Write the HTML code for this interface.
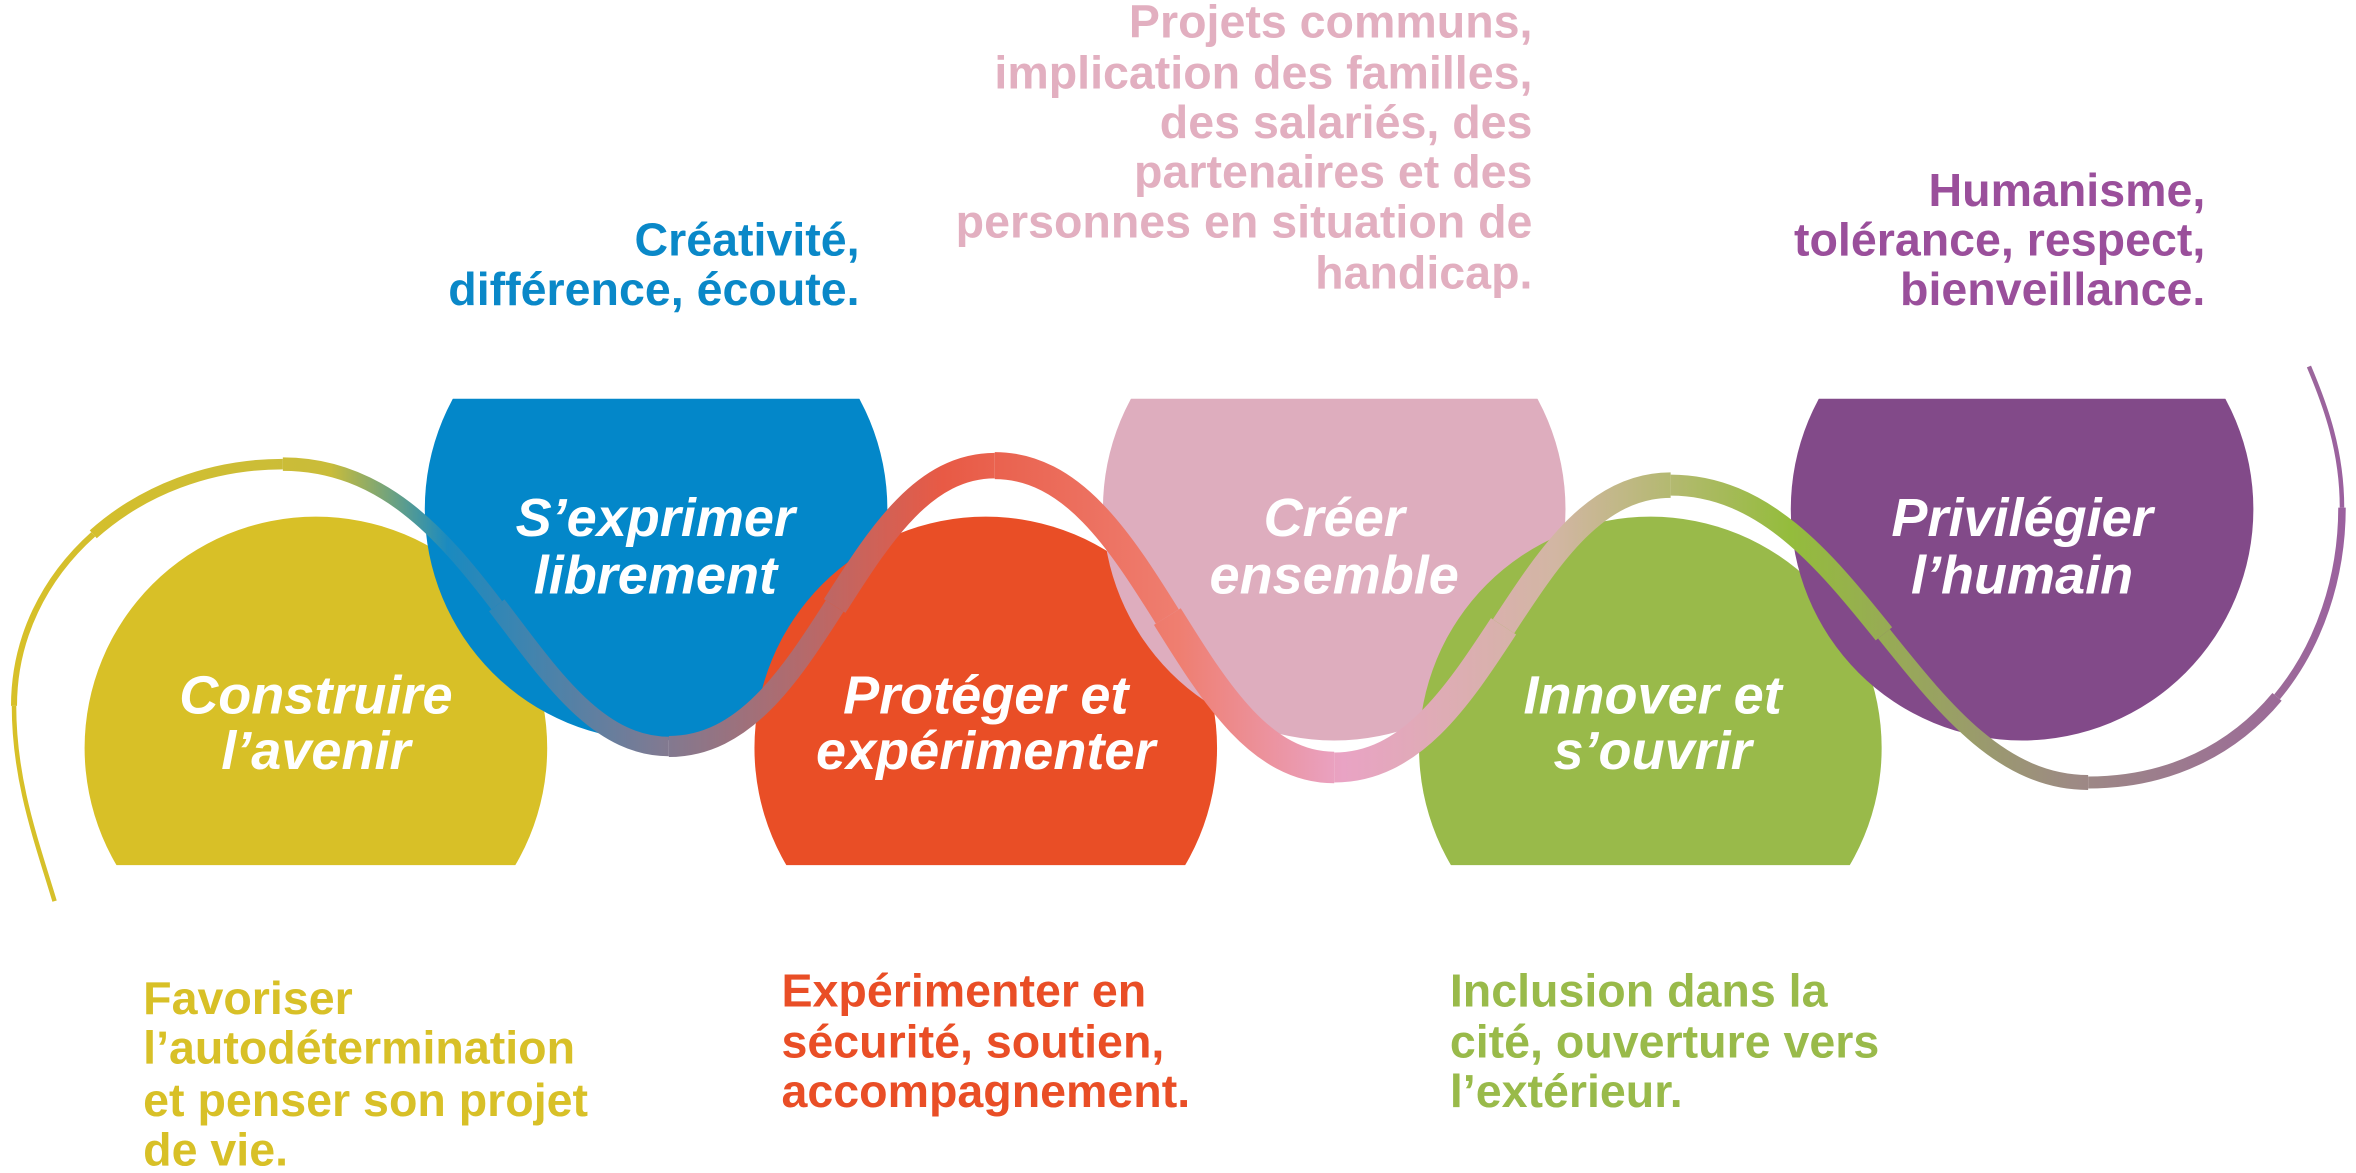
<!DOCTYPE html>
<html><head><meta charset="utf-8"><style>
html,body{margin:0;padding:0;background:#fff;}
svg{display:block;}
text{font-family:"Liberation Sans",sans-serif;}
.c{fill:#fff;font-style:italic;font-weight:bold;font-size:36px;text-anchor:middle;}
.t{font-size:31px;font-weight:bold;}
</style></head><body>
<svg width="2356" height="1173" viewBox="0 0 1568 781" xmlns="http://www.w3.org/2000/svg">
<defs>
<clipPath id="bot"><rect x="0" y="0" width="1568" height="576"/></clipPath>
<clipPath id="top"><rect x="0" y="265.5" width="1568" height="600"/></clipPath>
<linearGradient id="g" gradientUnits="userSpaceOnUse" x1="0" y1="0" x2="1568" y2="0">
<stop offset="0" stop-color="#d8c027"/>
<stop offset="0.14" stop-color="#c9bc3a"/>
<stop offset="0.19" stop-color="#1a8ac0"/>
<stop offset="0.28" stop-color="#7f7a92"/>
<stop offset="0.4" stop-color="#e85a45"/>
<stop offset="0.5" stop-color="#ef7e70"/>
<stop offset="0.57" stop-color="#e9a3c4"/>
<stop offset="0.66" stop-color="#d2b6a3"/>
<stop offset="0.76" stop-color="#94bc3c"/>
<stop offset="0.88" stop-color="#9d8a84"/>
<stop offset="1" stop-color="#9b5fa0"/>
</linearGradient>
</defs>
<circle cx="210" cy="498" r="154" fill="#d8c027" clip-path="url(#bot)"/>
<circle cx="436.5" cy="339" r="154" fill="#0387c9" clip-path="url(#top)"/>
<circle cx="656" cy="498" r="154" fill="#e94e26" clip-path="url(#bot)"/>
<circle cx="888" cy="339" r="154" fill="#deadbe" clip-path="url(#top)"/>
<circle cx="1098.5" cy="498" r="154" fill="#99ba4a" clip-path="url(#bot)"/>
<circle cx="1346" cy="339" r="154" fill="#824a89" clip-path="url(#top)"/>

<g fill="none" stroke="url(#g)" stroke-linecap="butt">
<path d="M36,600 C24,560 9,520 9,470" stroke-width="3"/>
<path d="M9,470 C9,425 29.25,384.75 61.75,355.75" stroke-width="4"/>
<path d="M61.75,355.75 C94.25,326.75 139,309 188,309" stroke-width="7"/>
<path d="M188,309 C254,309 294.5,356 330.4,403" stroke-width="9"/>
<path d="M330.4,403 C366.25,450 397.5,497 445,497" stroke-width="13"/>
<path d="M445,497 C495,497 525.5,450.25 555.4,403.5" stroke-width="14"/>
<path d="M555.4,403.5 C585.25,356.75 614.5,310 662,310" stroke-width="17"/>
<path d="M662,310 C713.5,310 745.5,360.25 776.9,410.5" stroke-width="18"/>
<path d="M776.9,410.5 C808.25,460.75 839,511 888,511" stroke-width="21"/>
<path d="M888,511 C939,511 970,464 1000.75,417" stroke-width="20"/>
<path d="M1000.75,417 C1031.5,370 1062,323 1112,323" stroke-width="17"/>
<path d="M1112,323 C1173.5,323 1214.25,372.5 1254,422" stroke-width="14"/>
<path d="M1254,422 C1293.75,471.5 1332.5,521 1390,521" stroke-width="10"/>
<path d="M1390,521 C1445,521 1487.25,498.25 1515.75,464" stroke-width="8"/>
<path d="M1515.75,464 C1544.25,429.75 1559,384 1559,338" stroke-width="5"/>
<path d="M1559,338 C1559,300 1548,270 1537,244" stroke-width="3"/>
</g>

<text class="c" x="210" y="475">Construire</text>
<text class="c" x="210" y="512">l’avenir</text>
<text class="c" x="436" y="357">S’exprimer</text>
<text class="c" x="436" y="395">librement</text>
<text class="c" x="656" y="475">Protéger et</text>
<text class="c" x="656" y="512">expérimenter</text>
<text class="c" x="888" y="357">Créer</text>
<text class="c" x="888" y="395">ensemble</text>
<text class="c" x="1100" y="475">Innover et</text>
<text class="c" x="1100" y="512">s’ouvrir</text>
<text class="c" x="1346" y="357">Privilégier</text>
<text class="c" x="1346" y="395">l’humain</text>

<g class="t" fill="#0a88c8" text-anchor="end">
<text x="572" y="170">Créativité,</text>
<text x="572" y="203">différence, écoute.</text>
</g>
<g class="t" fill="#e2afc0" text-anchor="end">
<text x="1020" y="25">Projets communs,</text>
<text x="1020" y="59">implication des familles,</text>
<text x="1020" y="92">des salariés, des</text>
<text x="1020" y="125">partenaires et des</text>
<text x="1020" y="158">personnes en situation de</text>
<text x="1020" y="192">handicap.</text>
</g>
<g class="t" fill="#9a4f9b" text-anchor="end">
<text x="1468" y="137">Humanisme,</text>
<text x="1468" y="170">tolérance, respect,</text>
<text x="1468" y="203">bienveillance.</text>
</g>
<g class="t" fill="#d8c027">
<text x="95" y="675">Favoriser</text>
<text x="95" y="708">l’autodétermination</text>
<text x="95" y="743">et penser son projet</text>
<text x="95" y="776">de vie.</text>
</g>
<g class="t" fill="#e94e26">
<text x="520" y="670">Expérimenter en</text>
<text x="520" y="704">sécurité, soutien,</text>
<text x="520" y="737">accompagnement.</text>
</g>
<g class="t" fill="#99ba4a">
<text x="965" y="670">Inclusion dans la</text>
<text x="965" y="704">cité, ouverture vers</text>
<text x="965" y="737">l’extérieur.</text>
</g>
</svg>
</body></html>
